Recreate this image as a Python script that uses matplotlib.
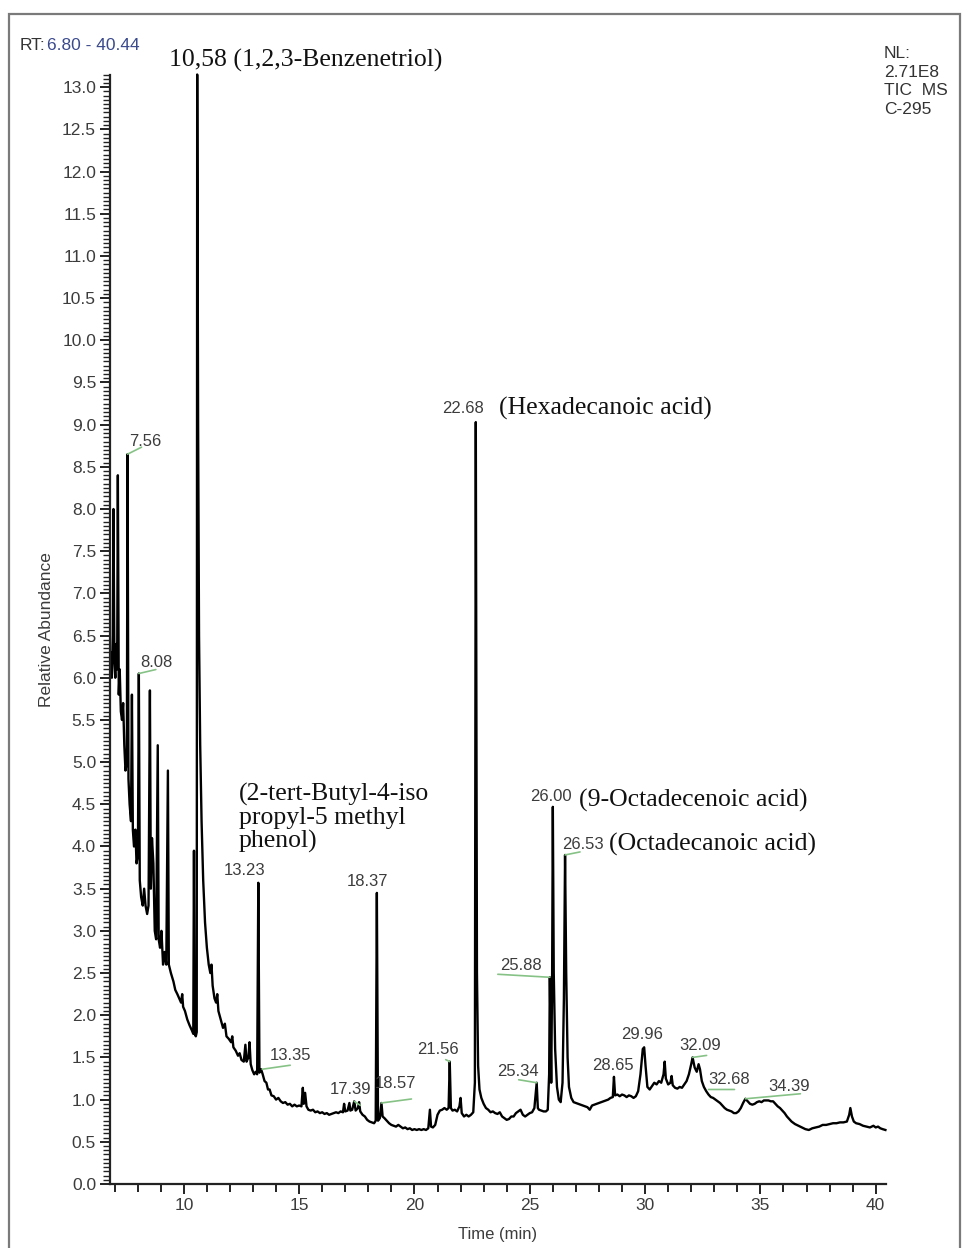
import matplotlib
matplotlib.use("Agg")
import matplotlib.pyplot as plt
from matplotlib.ticker import MultipleLocator
from matplotlib.patches import Rectangle

# =============================================================================
# TIC trace (time in min, relative abundance)
# =============================================================================
rt = [6.84, 6.88, 6.92, 6.95, 6.99, 7.03, 7.07, 7.11, 7.14, 7.18, 7.22, 7.27, 7.32, 7.37, 7.42,
      7.47, 7.53, 7.56, 7.60, 7.65, 7.71, 7.75, 7.79, 7.84, 7.90, 7.95, 8.01, 8.05, 8.09, 8.15,
      8.22, 8.28, 8.34, 8.41, 8.47, 8.53, 8.57, 8.62, 8.68, 8.74, 8.80, 8.87, 8.91, 8.97, 9.03,
      9.10, 9.17, 9.24, 9.31, 9.35, 9.44, 9.55, 9.63, 9.72, 9.80, 9.88, 9.93, 9.97, 10.05, 10.15,
      10.25, 10.35, 10.41, 10.44, 10.47, 10.52, 10.56, 10.58, 10.62, 10.66, 10.71, 10.77, 10.84, 10.92, 11.00,
      11.08, 11.15, 11.20, 11.25, 11.33, 11.40, 11.45, 11.50, 11.60, 11.70, 11.78, 11.85, 11.95, 12.05, 12.10,
      12.15, 12.25, 12.35, 12.42, 12.50, 12.60, 12.67, 12.72, 12.80, 12.85, 12.90, 12.97, 13.05, 13.12, 13.18,
      13.23, 13.28, 13.35, 13.42, 13.50, 13.58, 13.65, 13.72, 13.80, 13.90, 14.00, 14.10, 14.20, 14.30, 14.40,
      14.50, 14.60, 14.70, 14.80, 14.90, 15.00, 15.10, 15.16, 15.20, 15.26, 15.32, 15.40, 15.50, 15.60, 15.70,
      15.80, 15.90, 16.00, 16.10, 16.20, 16.30, 16.40, 16.50, 16.60, 16.70, 16.80, 16.90, 16.95, 17.00, 17.10,
      17.18, 17.22, 17.30, 17.39, 17.45, 17.55, 17.60, 17.65, 17.75, 17.85, 17.95, 18.05, 18.15, 18.25, 18.32,
      18.37, 18.42, 18.50, 18.57, 18.62, 18.70, 18.80, 18.90, 19.00, 19.10, 19.20, 19.30, 19.40, 19.50, 19.60,
      19.70, 19.80, 19.90, 20.00, 20.10, 20.20, 20.30, 20.40, 20.50, 20.60, 20.67, 20.72, 20.80, 20.90, 21.00,
      21.10, 21.20, 21.30, 21.40, 21.48, 21.53, 21.58, 21.65, 21.75, 21.85, 21.95, 22.00, 22.05, 22.15, 22.25,
      22.35, 22.45, 22.55, 22.62, 22.66, 22.71, 22.76, 22.82, 22.90, 23.00, 23.10, 23.20, 23.30, 23.40, 23.50,
      23.60, 23.70, 23.80, 23.90, 24.00, 24.10, 24.20, 24.30, 24.40, 24.50, 24.60, 24.70, 24.80, 24.90, 25.00,
      25.10, 25.20, 25.25, 25.30, 25.35, 25.40, 25.50, 25.60, 25.70, 25.78, 25.84, 25.87, 25.90, 25.93, 25.97,
      26.00, 26.04, 26.10, 26.18, 26.26, 26.34, 26.42, 26.48, 26.53, 26.58, 26.64, 26.70, 26.80, 26.90, 27.00,
      27.10, 27.20, 27.30, 27.40, 27.50, 27.60, 27.70, 27.80, 27.90, 28.00, 28.10, 28.20, 28.30, 28.40, 28.50,
      28.60, 28.65, 28.70, 28.80, 28.90, 29.00, 29.10, 29.20, 29.30, 29.40, 29.50, 29.60, 29.70, 29.80, 29.90,
      29.96, 30.02, 30.10, 30.20, 30.30, 30.40, 30.50, 30.60, 30.70, 30.80, 30.85, 30.90, 31.00, 31.10, 31.15,
      31.20, 31.30, 31.40, 31.50, 31.60, 31.70, 31.80, 31.90, 32.00, 32.06, 32.15, 32.24, 32.32, 32.38, 32.46,
      32.55, 32.65, 32.75, 32.85, 32.95, 33.05, 33.15, 33.25, 33.35, 33.45, 33.55, 33.65, 33.75, 33.85, 33.95,
      34.05, 34.15, 34.25, 34.35, 34.45, 34.55, 34.65, 34.75, 34.85, 34.95, 35.05, 35.15, 35.25, 35.35, 35.45,
      35.55, 35.65, 35.75, 35.85, 35.95, 36.05, 36.15, 36.25, 36.35, 36.50, 36.65, 36.80, 36.95, 37.10, 37.25,
      37.40, 37.55, 37.70, 37.85, 38.00, 38.15, 38.30, 38.45, 38.60, 38.75, 38.85, 38.90, 38.97, 39.05, 39.15,
      39.30, 39.45, 39.60, 39.75, 39.90, 40.00, 40.10, 40.20, 40.30, 40.42]
abundance = [6.3, 6.0, 6.5, 8.0, 6.2, 6.0, 6.4, 6.1, 8.4, 5.8, 6.1, 5.6, 5.5, 5.7, 5.2,
             4.9, 5.0, 8.65, 4.8, 4.5, 4.3, 5.8, 4.2, 4.0, 4.2, 3.8, 3.9, 6.05, 3.6, 3.4,
             3.3, 3.5, 3.3, 3.2, 3.3, 5.85, 3.5, 4.1, 3.8, 3.0, 2.9, 5.2, 2.9, 2.8, 3.0,
             2.6, 2.75, 2.6, 4.9, 2.6, 2.5, 2.4, 2.3, 2.25, 2.2, 2.15, 2.25, 2.1, 2.05, 1.95,
             1.88, 1.82, 1.78, 3.95, 1.78, 1.75, 1.8, 13.15, 9.0, 6.5, 5.2, 4.3, 3.6, 3.1, 2.8,
             2.6, 2.5, 2.6, 2.35, 2.2, 2.15, 2.25, 2.05, 1.95, 1.85, 1.9, 1.75, 1.72, 1.68, 1.75,
             1.62, 1.58, 1.52, 1.55, 1.47, 1.45, 1.65, 1.45, 1.5, 1.68, 1.42, 1.35, 1.3, 1.33, 1.3,
             3.57, 1.32, 1.36, 1.3, 1.22, 1.2, 1.12, 1.12, 1.05, 1.04, 1.0, 1.02, 0.98, 0.96, 0.97,
             0.94, 0.95, 0.92, 0.94, 0.92, 0.93, 0.92, 1.14, 0.95, 1.08, 0.92, 0.88, 0.87, 0.88, 0.85,
             0.86, 0.84, 0.85, 0.83, 0.84, 0.82, 0.83, 0.84, 0.85, 0.84, 0.86, 0.85, 0.95, 0.86, 0.87,
             0.96, 0.87, 0.88, 0.98, 0.87, 0.9, 0.97, 0.86, 0.82, 0.8, 0.76, 0.74, 0.73, 0.72, 0.75,
             3.45, 0.75, 0.78, 0.96, 0.8, 0.78, 0.75, 0.72, 0.7, 0.69, 0.68, 0.7, 0.68, 0.66, 0.67,
             0.65, 0.66, 0.64, 0.65, 0.64, 0.65, 0.64, 0.65, 0.64, 0.66, 0.88, 0.68, 0.67, 0.7, 0.82,
             0.87, 0.88, 0.9, 0.88, 0.9, 1.45, 0.9, 0.87, 0.88, 0.86, 0.92, 1.02, 0.84, 0.8, 0.82,
             0.8, 0.82, 0.85, 1.2, 9.03, 2.5, 1.4, 1.12, 1.02, 0.95, 0.9, 0.88, 0.85, 0.86, 0.84,
             0.83, 0.85, 0.8, 0.78, 0.76, 0.77, 0.8, 0.8, 0.84, 0.86, 0.88, 0.82, 0.8, 0.82, 0.84,
             0.85, 0.9, 1.05, 1.2, 0.9, 0.88, 0.87, 0.86, 0.86, 0.88, 1.3, 2.45, 1.8, 1.2, 2.5,
             4.47, 2.5, 1.6, 1.15, 1.0, 0.97, 1.2, 2.2, 3.9, 2.5, 1.5, 1.15, 1.02, 0.97, 0.96,
             0.95, 0.94, 0.93, 0.92, 0.91, 0.88, 0.93, 0.94, 0.95, 0.96, 0.97, 0.98, 0.99, 1.0, 1.02,
             1.03, 1.27, 1.05, 1.06, 1.04, 1.06, 1.05, 1.03, 1.05, 1.04, 1.02, 1.04, 1.1, 1.3, 1.6,
             1.62, 1.4, 1.15, 1.12, 1.16, 1.2, 1.18, 1.22, 1.2, 1.3, 1.45, 1.25, 1.18, 1.2, 1.28,
             1.17, 1.14, 1.13, 1.15, 1.14, 1.18, 1.22, 1.3, 1.42, 1.5, 1.38, 1.33, 1.42, 1.36, 1.22,
             1.15, 1.1, 1.06, 1.03, 1.02, 1.0, 0.98, 0.96, 0.93, 0.9, 0.88, 0.87, 0.86, 0.84, 0.84,
             0.86, 0.9, 0.96, 1.01, 0.98, 0.95, 0.94, 0.95, 0.97, 0.98, 0.97, 0.99, 0.99, 0.99, 0.98,
             0.98, 0.95, 0.92, 0.9, 0.87, 0.84, 0.8, 0.77, 0.74, 0.71, 0.69, 0.67, 0.65, 0.64, 0.66,
             0.67, 0.68, 0.7, 0.7, 0.71, 0.72, 0.72, 0.73, 0.73, 0.74, 0.82, 0.9, 0.8, 0.74, 0.72,
             0.71, 0.69, 0.68, 0.67, 0.69, 0.67, 0.68, 0.66, 0.65, 0.64]

# peak labels: text, apex time, apex height, label offset (px), green leader end offset (px) or None
peak_labels = ["7.56", "8.08", "13.23", "13.35", "17.39", "18.37", "18.57", "21.56", "22.68",
               "25.34", "25.88", "26.00", "26.53", "28.65", "29.96", "32.09", "32.68", "34.39"]
peak_rt = [7.56, 8.05, 13.23, 13.40, 17.39, 18.37, 18.57, 21.53, 22.66,
           25.30, 25.87, 26.00, 26.53, 28.65, 29.96, 32.06, 32.75, 34.35]
peak_height = [8.65, 6.05, 3.57, 1.36, 0.98, 3.45, 0.96, 1.45, 9.03,
               1.2, 2.45, 4.47, 3.9, 1.27, 1.62, 1.5, 1.12, 1.01]
label_dx = [18, 18, -14, 28, -4, -9, 14, -12, -13, -19, -29, -2, 18, -1, -2, 8, 21, 44]
label_dy = [13, 11, 12, 14, 12, 11, 19, 12, 14, 11, 12, 10, 10, 11, 13, 12, 10, 12]
leader_dx = [14, 17, None, 28, 6, None, 30, -4, None, -18, -52, None, 15, None, None, 14, 26, 55]
leader_dy = [7, 4, None, 4, -4, None, 4, 2, None, 3, 3, None, 3, None, None, 2, 0, 5]

compounds = ["10,58 (1,2,3-Benzenetriol)", "(Hexadecanoic acid)",
             "(2-tert-Butyl-4-iso\npropyl-5 methyl\nphenol)",
             "(9-Octadecenoic acid)", "(Octadecanoic acid)"]
compound_rt = [9.35, 23.65, 12.38, 27.12, 28.42]
compound_y = [13.32, 9.19, 4.34, 4.55, 4.02]

# =============================================================================
# figure
# =============================================================================
sans = "Liberation Sans"
serif = "Liberation Serif"
gray = "#3c3c3c"

fig = plt.figure(figsize=(9.65, 12.48), dpi=100)
ax = fig.add_axes([0.114, 0.0513, 0.804, 0.889])

ax.plot(rt, abundance, color="black", lw=1.7, clip_on=False)

ax.set_xlim(6.8, 40.44)
ax.set_ylim(0, 13.15)
ax.spines["top"].set_visible(False)
ax.spines["right"].set_visible(False)
for s in ["left", "bottom"]:
    ax.spines[s].set_linewidth(1.6)
    ax.spines[s].set_color("#222222")

ax.xaxis.set_major_locator(MultipleLocator(5))
ax.xaxis.set_minor_locator(MultipleLocator(1))
ax.yaxis.set_major_locator(MultipleLocator(0.5))
ax.yaxis.set_minor_locator(MultipleLocator(0.05))
ax.yaxis.set_major_formatter(plt.FormatStrFormatter("%.1f"))
ax.tick_params(axis="both", which="major", direction="out", length=7, width=1.4,
               color="#222222", labelsize=12.5, labelcolor=gray, pad=3)
ax.tick_params(axis="y", which="minor", direction="out", length=5, width=1.0, color="#222222")
ax.tick_params(axis="x", which="minor", direction="out", length=6, width=1.4, color="#222222")
for lab in ax.get_xticklabels() + ax.get_yticklabels():
    lab.set_fontfamily(sans)

ax.set_xlabel("Time (min)", fontsize=12, family=sans, color=gray, labelpad=10)
ax.set_ylabel("Relative Abundance", fontsize=12.5, family=sans, color=gray, labelpad=6)

# peak labels with green leaders
for i in range(len(peak_labels)):
    ax.annotate(peak_labels[i], xy=(peak_rt[i], peak_height[i]),
                xytext=(label_dx[i], label_dy[i]), textcoords="offset pixels",
                ha="center", va="center", fontsize=12, family=sans, color=gray)
    if leader_dx[i] is not None:
        ax.annotate("", xy=(peak_rt[i], peak_height[i]),
                    xytext=(leader_dx[i], leader_dy[i]), textcoords="offset pixels",
                    arrowprops=dict(arrowstyle="-", color="#86c286", lw=1.2,
                                    shrinkA=0, shrinkB=0))

# compound names
for name, t, y in zip(compounds, compound_rt, compound_y):
    ax.text(t, y, name, ha="left", va="center", fontsize=18.5, family=serif,
            color="#111111", linespacing=1.05)

# header texts
fig.text(20 / 965, 1 - 45 / 1248, "RT:", fontsize=12.5, family=sans, color="#333333",
         ha="left", va="center")
fig.text(47 / 965, 1 - 45 / 1248, "6.80 - 40.44", fontsize=12.5, family=sans,
         color="#3b4a8c", ha="left", va="center")
fig.text(884 / 965, 1 - 46 / 1248, "NL:\n2.71E8\nTIC  MS\nC-295", fontsize=12.5,
         family=sans, color="#333333", ha="left", va="top", linespacing=1.3)

# outer frame
fig.add_artist(Rectangle((9 / 965, -0.05), 951 / 965, 1.05 - 14 / 1248,
                         transform=fig.transFigure, fill=False, ec="#7a7a7a", lw=1.6))

fig.savefig("out.png", dpi=100)
